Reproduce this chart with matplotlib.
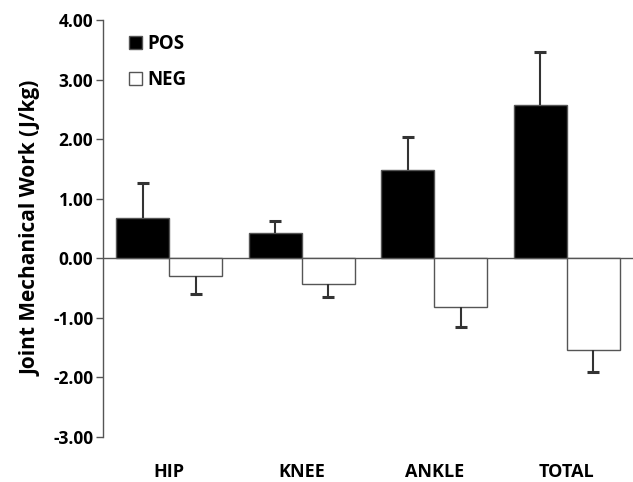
import matplotlib
matplotlib.use("Agg")
import matplotlib.pyplot as plt
import numpy as np

categories = ["HIP", "KNEE", "ANKLE", "TOTAL"]
pos_vals = [0.67, 0.42, 1.49, 2.58]
pos_err = [0.59, 0.20, 0.54, 0.89]
neg_vals = [-0.30, -0.43, -0.82, -1.54]
neg_err = [0.30, 0.22, 0.34, 0.37]
yticks = [-3, -2, -1, 0, 1, 2, 3, 4]

plt.rcParams['font.family'] = ['Open Sans', 'DejaVu Sans']

fig = plt.figure(figsize=(6.33, 4.82), dpi=100)
ax = fig.add_axes([0.1627, 0.0934, 0.8373, 0.8651])

x = np.arange(len(categories))
w = 0.4
edge = "#555555"
ecol = "#333333"
pv = np.array(pos_vals); pe = np.array(pos_err)
nv = np.array(neg_vals); ne = np.array(neg_err)

ax.bar(x - w/2, pv, w, color="black", edgecolor=edge, linewidth=1, label="POS", zorder=2)
ax.bar(x + w/2, nv, w, color="white", edgecolor=edge, linewidth=1, label="NEG", zorder=2)
# one-sided error bars
ax.vlines(x - w/2, pv, pv + pe, color=ecol, linewidth=1.5, zorder=3)
ax.plot(x - w/2, pv + pe, linestyle="none", marker="_", markersize=9, markeredgewidth=2.2, color=ecol, zorder=3)
ax.vlines(x + w/2, nv, nv - ne, color=ecol, linewidth=1.5, zorder=3)
ax.plot(x + w/2, nv - ne, linestyle="none", marker="_", markersize=9, markeredgewidth=2.2, color=ecol, zorder=3)

ax.axhline(0, color=edge, linewidth=1, zorder=1)
ax.set_xlim(-0.5, 3.5)
ax.set_ylim(-3, 4)
ax.set_yticks(yticks)
ax.set_yticklabels([f"{v:.2f}" for v in yticks], fontsize=12.5, fontweight="bold")
ax.set_xticks(x)
ax.set_xticklabels(categories, fontsize=13, fontweight="bold")
ax.tick_params(axis="x", length=0, pad=19)
ax.tick_params(axis="y", direction="out", length=5, color=edge, width=1, pad=2)
for s in ["top", "right", "bottom"]:
    ax.spines[s].set_visible(False)
ax.spines["left"].set_color(edge)
ax.spines["left"].set_linewidth(1)
ax.set_ylabel("Joint Mechanical Work (J/kg)", fontsize=15, fontweight="bold", labelpad=8)

leg = ax.legend(loc="upper left", bbox_to_anchor=(0.025, 0.998), frameon=False,
                prop={"size": 13.5, "weight": "bold"}, handlelength=0.65, handleheight=0.65,
                handletextpad=0.3, labelspacing=0.85, borderpad=0.2)
for h in leg.legend_handles:
    h.set_edgecolor(edge)

fig.savefig("out.png", dpi=100)
